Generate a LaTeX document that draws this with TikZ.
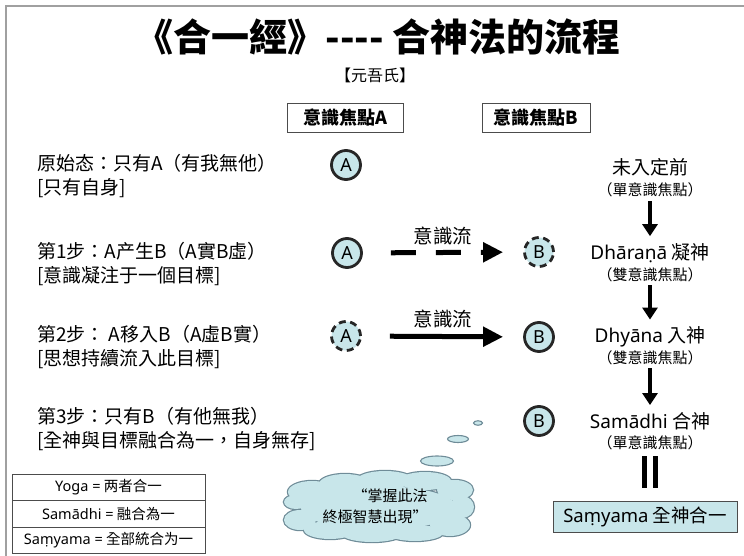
\documentclass[tikz,border=0pt]{standalone}
\usepackage{fontspec}
\setmainfont{Noto Sans CJK TC}
\newfontfamily\lat{Noto Sans}
\usetikzlibrary{shapes.geometric,arrows.meta}
\definecolor{cy}{HTML}{C8E6EA}
\definecolor{cloudline}{HTML}{6F8C98}
\definecolor{framegray}{HTML}{A0A0A0}
\newcommand{\fs}[1]{\fontsize{#1}{#1}\selectfont}
\newcommand{\cloudpuffs}{379/508/78/22, 312/492/24/11, 345/484/26/10, 385/480/28/9, 425/481/26/9, 455/490/18/10, 462/507/12/11, 450/525/20/11, 415/533/28/8, 372/534/30/8, 330/530/26/9, 300/520/16/10, 296/502/12/7}
\tikzset{
  hdr/.style={draw=black!70, line width=1pt, minimum width=116pt, minimum height=29pt, inner sep=0pt, font=\bfseries\fs{18}},
  lefttext/.style={anchor=west, align=left, inner sep=0pt, font=\fontsize{19}{24}\selectfont},
  circ/.style={circle, draw=black!85, line width=2.8pt, fill=cy, minimum size=29pt, inner sep=0pt, font=\lat\fs{18}},
  dcirc/.style={circ, dash pattern=on 7pt off 4.5pt},
  rtitle/.style={inner sep=0pt, font=\fs{19}},
  rsub/.style={inner sep=0pt, font=\fs{15}},
  vflow/.style={line width=3.5pt, -{Triangle[length=12pt,width=15pt]}},
  hflow/.style={line width=5pt, -{Triangle[length=20pt,width=19pt]}, shorten <=28pt, shorten >=20pt},
  flowlabel/.style={inner sep=0pt, font=\fs{19.5}},
  legend/.style={draw=black!70, line width=0.9pt, minimum width=193pt, minimum height=26.3pt, inner sep=0pt, font=\fs{14.5}},
  bubble/.style={ellipse, draw=cloudline, line width=1.1pt, fill=cy, inner sep=0pt},
  bar/.style={line width=4.5pt, shorten <=6pt, shorten >=13pt}
}
\begin{document}
\begin{tikzpicture}[x=1pt,y=-1pt]
\useasboundingbox (0,0) rectangle (744,556);
\draw[framegray, line width=2pt] (6,556) -- (6,6) -- (744,6);

\node[font=\bfseries\fs{38}, inner sep=0pt] (title) at (378,37) {《合一經》-{}-{}-{}- 合神法的流程};
\node[font=\fs{16}, inner sep=0pt] (sub) at (375,75) {【元吾氏】};

\node[hdr] (hA) at (345,118) {意識焦點A};
\node[hdr, minimum width=108pt] (hB) at (536,118) {意識焦點B};

% left descriptions
\node[lefttext] (t1) at (37,176) {原始态：只有A（有我無他）\\{}[只有自身]};
\node[lefttext] (t2) at (37,264) {第1步：A产生B（A實B虛）\\{}[意識凝注于一個目標]};
\node[lefttext] (t3) at (37,347) {第2步： A移入B（A虛B實）\\{}[思想持續流入此目標]};
\node[lefttext] (t4) at (37,429) {第3步：只有B（有他無我）\\{}[全神與目標融合為一，自身無存]};

% circles
\node[circ] (a1) at (346,165) {A};
\node[circ] (a2) at (347,253) {A};
\node[dcirc] (b2) at (539,252) {B};
\node[dcirc] (a3) at (346,336) {A};
\node[circ] (b3) at (539,337) {B};
\node[circ] (b4) at (539,421) {B};

% flows
\draw[hflow, dash pattern=on 25pt off 20pt] (a2) -- (b2);
\node[flowlabel] (l2) at (443,236) {意識流};
\draw[hflow] (a3) -- (b3);
\node[flowlabel] (l3) at (443,319) {意識流};

% right column
\node[rtitle] (r1) at (650,167) {未入定前};
\node[rsub] (r1s) at (650,190) {（單意識焦點）};
\node[rtitle] (r2) at (650,253) {{\lat Dhāraṇā} 凝神};
\node[rsub] (r2s) at (650,275) {（雙意識焦點）};
\node[rtitle] (r3) at (650,337) {{\lat Dhyāna} 入神};
\node[rsub] (r3s) at (650,358) {（雙意識焦點）};
\node[rtitle] (r4) at (650,421) {{\lat Samādhi} 合神};
\node[rsub] (r4s) at (650,443) {（單意識焦點）};

\draw[vflow, shorten <=4pt, shorten >=7pt] (r1s) -- (r2);
\draw[vflow, shorten <=3pt, shorten >=7pt] (r2s) -- (r3);
\draw[vflow, shorten <=3pt, shorten >=7pt] (r3s) -- (r4);

\node[draw=black!70, line width=1pt, fill=cy, minimum width=184pt, minimum height=31pt, inner sep=0pt, font=\fs{18.5}] (sam) at (645,517) {{\lat Saṃyama} 全神合一};
\coordinate (bartop) at (r4s.south);
\coordinate (barbot) at (r4s.south |- sam.north);
\draw[bar] ([xshift=-5.5pt]bartop) -- ([xshift=-5.5pt]barbot);
\draw[bar] ([xshift=5.5pt]bartop) -- ([xshift=5.5pt]barbot);

% legend
\node[legend] (g1) at (108.5,487.5) {{\lat Yoga =} 两者合一};
\node[legend] (g2) at (108.5,513.8) {{\lat Samādhi =} 融合為一};
\node[legend] (g3) at (108.5,540.1) {{\lat Saṃyama =} 全部統合为一};

% thought cloud: outline of a union of puffs
\foreach \cx/\cy/\rx/\ry in \cloudpuffs
  \draw[cloudline, line width=2.4pt] (\cx,\cy) ellipse [x radius=\rx, y radius=\ry];
\foreach \cx/\cy/\rx/\ry in \cloudpuffs
  \fill[cy] (\cx,\cy) ellipse [x radius=\rx, y radius=\ry];
\node[inner sep=0pt, align=right, font=\fontsize{15}{21}\selectfont] (cloud) at (375,506) {“掌握此法\\終極智慧出現”};
\node[bubble, minimum width=33pt, minimum height=10pt] (bb3) at (437,461) {};
\node[bubble, minimum width=21pt, minimum height=7pt] (bb2) at (458,439) {};
\node[bubble, minimum width=9pt, minimum height=4.5pt] (bb1) at (478,423) {};
\end{tikzpicture}
\end{document}
